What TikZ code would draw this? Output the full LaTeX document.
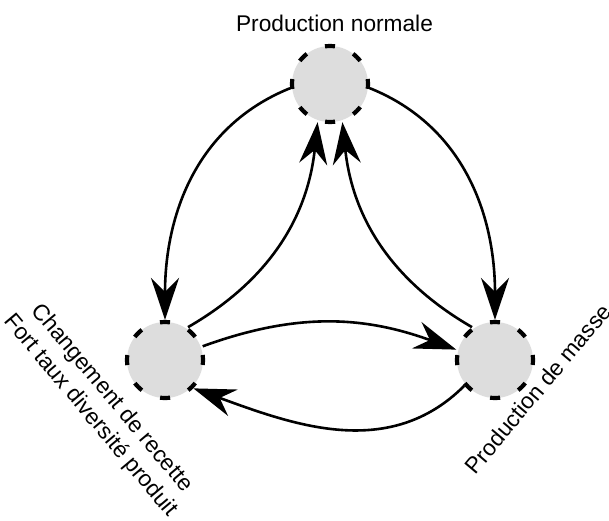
\documentclass[tikz,border=0pt]{standalone}
\usepackage{fontspec}
\setmainfont{Liberation Sans}
\usetikzlibrary{arrows.meta}
\definecolor{statefill}{HTML}{DDDDDD}
\tikzset{
  x=1pt, y=1pt,
  state/.style={circle, fill=statefill, draw=black, line width=4.2pt,
    dash pattern=on 10pt off 19.85pt, dash phase=5pt,
    minimum size=76pt, inner sep=0pt},
  edge/.style={draw=black, line width=2.6pt,
    -{Stealth[length=42pt, width=28pt, inset=14pt]}},
  lbl/.style={font=\fontsize{22.7}{27.5}\selectfont, inner sep=0pt}
}
\begin{document}
\begin{tikzpicture}
\useasboundingbox (0,0) rectangle (609,-520);
\node[state] (top) at (330,-84) {};
\node[state] (left) at (165,-360) {};
\node[state] (right) at (495,-360) {};

\node[lbl, anchor=base] (ltop) at (334.5,-31) {Production normale};
\node[lbl, anchor=base, rotate=50] (lright) at (544,-394) {Production de masse};
\node[lbl, align=center, rotate=-50] (lleft) at (101,-407) {Changement de recette\\Fort taux diversité produit};

\draw[edge] (top.186) to[out=202,in=90] (left.90);
\draw[edge] (left.55) to[out=30,in=-96] (top.252);
\draw[edge] (top.-6) to[out=-22,in=90] (right.90);
\draw[edge] (right.125) to[out=150,in=-84] (top.288);
\draw[edge] (left.20) to[out=20,in=160] (right.165);
\draw[edge] (right.220) to[out=225,in=-20] (left.-45);
\end{tikzpicture}
\end{document}
